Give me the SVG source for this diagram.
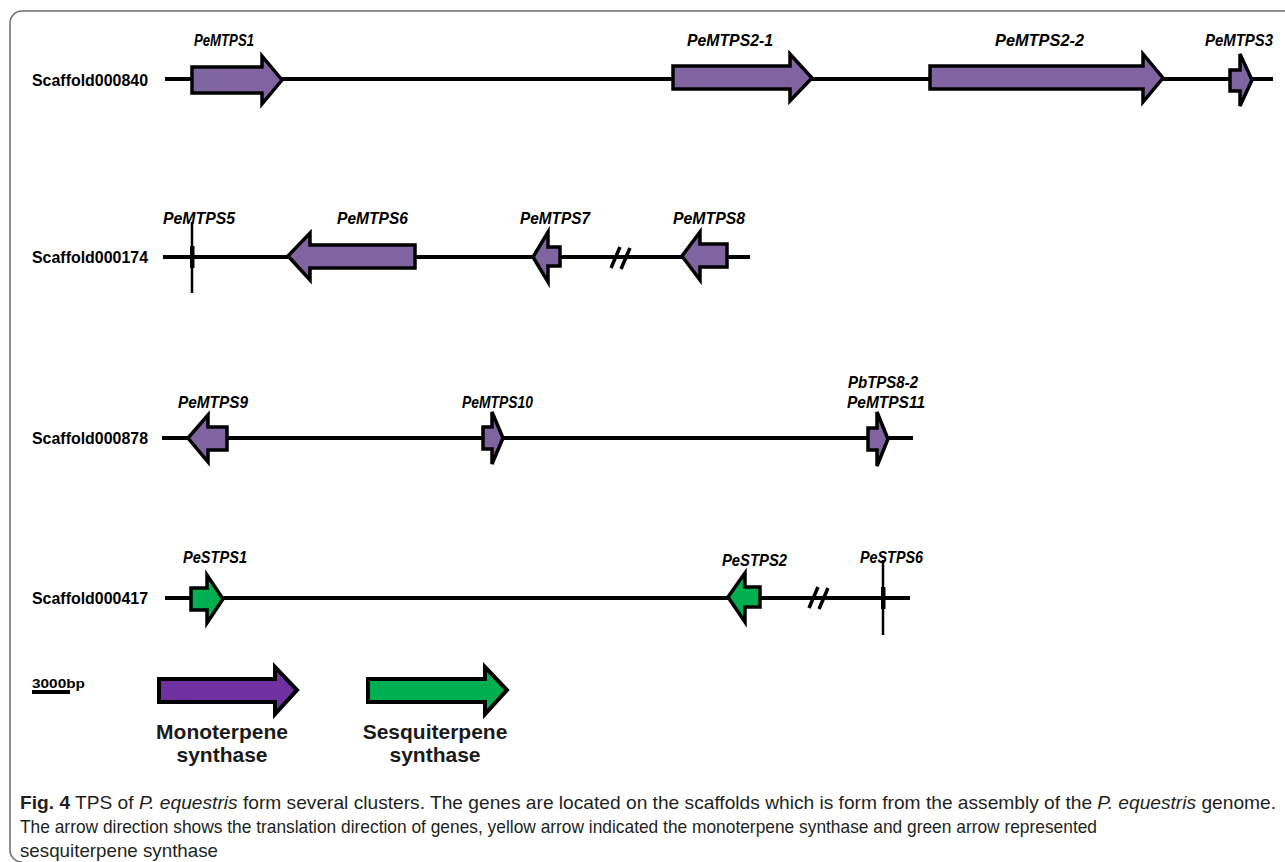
<svg xmlns="http://www.w3.org/2000/svg" width="1285" height="862" viewBox="0 0 1285 862">
<defs>
<style>
.bg{fill:#ffffff}
.frame{fill:none;stroke:#6b6b6b;stroke-width:1.5}
.scaf{fill:none;stroke:#000;stroke-width:4;stroke-linecap:butt}
.tick{fill:none;stroke:#000;stroke-width:2.5}
.brk{fill:none;stroke:#000;stroke-width:3.5}
.mono{fill:#8064A2;stroke:#000;stroke-width:3.5;stroke-linejoin:miter}
.sesq{fill:#00B050;stroke:#000;stroke-width:3.5;stroke-linejoin:miter}
.legmono{fill:#7030A0;stroke:#000;stroke-width:4;stroke-linejoin:miter}
.legsesq{fill:#00B050;stroke:#000;stroke-width:4;stroke-linejoin:miter}
.slabel{font-family:"Liberation Sans",Arial,sans-serif;font-weight:bold;font-size:17px;fill:#000}
.glabel{font-family:"Liberation Sans",Arial,sans-serif;font-weight:bold;font-style:italic;font-size:17px;fill:#000}
.leg{font-family:"Liberation Sans",Arial,sans-serif;font-weight:bold;font-size:21px;fill:#1a1a1a}
.scale{font-family:"Liberation Sans",Arial,sans-serif;font-weight:bold;font-size:13px;fill:#000}
.cap{font-family:"Liberation Sans",Arial,sans-serif;font-size:19px;fill:#231f20}
</style>
</defs>
<rect class="bg" x="0" y="0" width="1285" height="862"/>
<path class="frame" d="M1286,11 H22 A12,12 0 0 0 10,23 V850 A12,12 0 0 0 22,862"/>

<g id="connectors">
<line class="scaf" x1="165" y1="79" x2="1273" y2="79"/>
<line class="scaf" x1="163" y1="257" x2="750" y2="257"/>
<line class="scaf" x1="162" y1="438" x2="913" y2="438"/>
<line class="scaf" x1="165" y1="598" x2="910" y2="598"/>
<g id="break1"><line class="brk" x1="611" y1="268" x2="620" y2="247"/><line class="brk" x1="621" y1="269" x2="630" y2="248"/></g>
<g id="break2"><line class="brk" x1="809" y1="608" x2="818" y2="587"/><line class="brk" x1="819" y1="609" x2="828" y2="588"/></g>
</g>

<g id="scaffold000840"><text class="slabel" x="32" y="86" textLength="116" lengthAdjust="spacingAndGlyphs">Scaffold000840</text></g>
<g id="scaffold000174"><text class="slabel" x="32" y="263" textLength="116" lengthAdjust="spacingAndGlyphs">Scaffold000174</text></g>
<g id="scaffold000878"><text class="slabel" x="32" y="444" textLength="116" lengthAdjust="spacingAndGlyphs">Scaffold000878</text></g>
<g id="scaffold000417"><text class="slabel" x="32" y="604" textLength="116" lengthAdjust="spacingAndGlyphs">Scaffold000417</text></g>

<g id="PeMTPS1">
<polygon class="mono" points="192,67 262,67 262,56 282,80 262,104 262,93 192,93"/>
<text class="glabel" x="194" y="46" textLength="60" lengthAdjust="spacingAndGlyphs">PeMTPS1</text>
</g>
<g id="PeMTPS2-1">
<polygon class="mono" points="673,66 790,66 790,54 812,78 790,101 790,89 673,89"/>
<text class="glabel" x="687" y="46" textLength="86" lengthAdjust="spacingAndGlyphs">PeMTPS2-1</text>
</g>
<g id="PeMTPS2-2">
<polygon class="mono" points="930,66 1143,66 1143,54 1163,78 1143,102 1143,89 930,89"/>
<text class="glabel" x="995" y="46" textLength="89" lengthAdjust="spacingAndGlyphs">PeMTPS2-2</text>
</g>
<g id="PeMTPS3">
<polygon class="mono" points="1230,70 1240,70 1240,54 1252,80 1240,106 1240,91 1230,91"/>
<text class="glabel" x="1205" y="46" textLength="68" lengthAdjust="spacingAndGlyphs">PeMTPS3</text>
</g>

<g id="PeMTPS5">
<line class="tick" x1="192" y1="222" x2="192" y2="293"/>
<rect x="190" y="246" width="4.5" height="22" fill="#000"/>
<text class="glabel" x="163" y="224" textLength="72" lengthAdjust="spacingAndGlyphs">PeMTPS5</text>
</g>
<g id="PeMTPS6">
<polygon class="mono" points="415,245 310,245 310,233 288,256 310,280 310,268 415,268"/>
<text class="glabel" x="337" y="224" textLength="71" lengthAdjust="spacingAndGlyphs">PeMTPS6</text>
</g>
<g id="PeMTPS7">
<polygon class="mono" points="560,247 548,247 548,232 533,257 548,282 548,266 560,266"/>
<text class="glabel" x="520" y="224" textLength="70" lengthAdjust="spacingAndGlyphs">PeMTPS7</text>
</g>
<g id="PeMTPS8">
<polygon class="mono" points="727,244 700,244 700,232 682,256 700,280 700,267 727,267"/>
<text class="glabel" x="673" y="224" textLength="72" lengthAdjust="spacingAndGlyphs">PeMTPS8</text>
</g>

<g id="PeMTPS9">
<polygon class="mono" points="227,427 208,427 208,415 188,438 208,462 208,450 227,450"/>
<text class="glabel" x="178" y="408" textLength="70" lengthAdjust="spacingAndGlyphs">PeMTPS9</text>
</g>
<g id="PeMTPS10">
<polygon class="mono" points="483,427 492,427 492,412 503,438 492,464 492,449 483,449"/>
<text class="glabel" x="462" y="408" textLength="71" lengthAdjust="spacingAndGlyphs">PeMTPS10</text>
</g>
<g id="PeMTPS11">
<polygon class="mono" points="868,428 877,428 877,412 888,439 877,466 877,450 868,450"/>
<text class="glabel" x="848" y="388" textLength="70" lengthAdjust="spacingAndGlyphs">PbTPS8-2</text>
<text class="glabel" x="847" y="408" textLength="78" lengthAdjust="spacingAndGlyphs">PeMTPS11</text>
</g>

<g id="PeSTPS1">
<polygon class="sesq" points="191,588 207,588 207,575 223,599 207,623 207,610 191,610"/>
<text class="glabel" x="183" y="563" textLength="64" lengthAdjust="spacingAndGlyphs">PeSTPS1</text>
</g>
<g id="PeSTPS2">
<polygon class="sesq" points="760,587 745,587 745,573 728,597 745,622 745,607 760,607"/>
<text class="glabel" x="722" y="566" textLength="65" lengthAdjust="spacingAndGlyphs">PeSTPS2</text>
</g>
<g id="PeSTPS6">
<line class="tick" x1="883" y1="560" x2="883" y2="635"/>
<rect x="881" y="587" width="4.5" height="22" fill="#000"/>
<text class="glabel" x="860" y="563" textLength="63" lengthAdjust="spacingAndGlyphs">PeSTPS6</text>
</g>

<g id="scalebar">
<text class="scale" x="32" y="688" textLength="53" lengthAdjust="spacingAndGlyphs">3000bp</text>
<line x1="32" y1="692" x2="70" y2="692" stroke="#000" stroke-width="4"/>
</g>
<g id="legend-mono">
<polygon class="legmono" points="159,679 275,679 275,667 297,690 275,714 275,702 159,702"/>
<text class="leg" x="222" y="739" text-anchor="middle">Monoterpene</text>
<text class="leg" x="222" y="762" text-anchor="middle">synthase</text>
</g>
<g id="legend-sesq">
<polygon class="legsesq" points="368,679 485,679 485,667 507,690 485,714 485,702 368,702"/>
<text class="leg" x="435" y="739" text-anchor="middle">Sesquiterpene</text>
<text class="leg" x="435" y="762" text-anchor="middle">synthase</text>
</g>

<g id="caption">
<text class="cap" x="20" y="809" textLength="1256" lengthAdjust="spacingAndGlyphs"><tspan font-weight="bold">Fig. 4</tspan>  TPS of <tspan font-style="italic">P. equestris</tspan> form several clusters. The genes are located on the scaffolds which is form from the assembly of the <tspan font-style="italic">P. equestris</tspan> genome.</text>
<text class="cap" x="20" y="833" textLength="1077" lengthAdjust="spacingAndGlyphs">The arrow direction shows the translation direction of genes, yellow arrow indicated the monoterpene synthase and green arrow represented</text>
<text class="cap" x="20" y="857" textLength="198" lengthAdjust="spacingAndGlyphs">sesquiterpene synthase</text>
</g>
</svg>
